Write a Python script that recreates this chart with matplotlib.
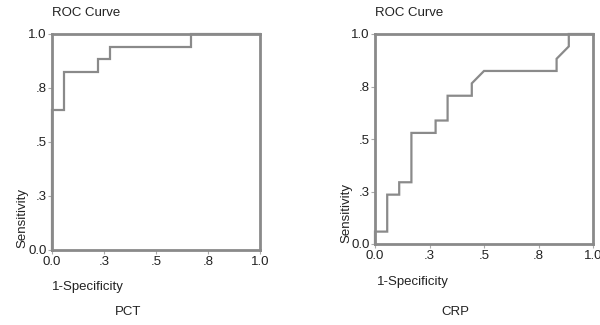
import matplotlib
matplotlib.use("Agg")
import matplotlib.pyplot as plt

# ROC curve vertices (1-specificity, sensitivity)
pct_fpr = [0.0, 0.0, 0.056, 0.056, 0.222, 0.222, 0.278, 0.278, 0.667, 0.667, 1.0]
pct_tpr = [0.0, 0.647, 0.647, 0.824, 0.824, 0.882, 0.882, 0.941, 0.941, 1.0, 1.0]

crp_fpr = [0.0, 0.0, 0.056, 0.056, 0.111, 0.111, 0.167, 0.167, 0.278, 0.278,
           0.333, 0.333, 0.444, 0.444, 0.5, 0.833, 0.833, 0.889, 0.889, 1.0]
crp_tpr = [0.0, 0.059, 0.059, 0.235, 0.235, 0.294, 0.294, 0.529, 0.529, 0.588,
           0.588, 0.706, 0.706, 0.765, 0.824, 0.824, 0.882, 0.941, 1.0, 1.0]

tick_pos = [0.0, 0.25, 0.5, 0.75, 1.0]
tick_labels = ["0.0", ".3", ".5", ".8", "1.0"]
panel_names = ["PCT", "CRP"]

plt.rcParams['font.family'] = ['Liberation Sans', 'DejaVu Sans']
W, H = 600, 325
fig = plt.figure(figsize=(6, 3.25), dpi=100)

def px(x, y):
    return x / W, 1 - y / H

line_col = '#8a8a8a'
text_col = '#222222'
fs = 9.5

panels = [
    # axes box (left, top, right, bottom) in pixels, label positions
    dict(box=(52, 34, 260, 250), fpr=pct_fpr, tpr=pct_tpr, ylab=(22, 248), xlab=(52, 287), name=(128, 312)),
    dict(box=(375, 34, 593, 244), fpr=crp_fpr, tpr=crp_tpr, ylab=(346, 243), xlab=(377, 282), name=(455, 312)),
]

for p, name in zip(panels, panel_names):
    l, t, r, b = p['box']
    ax = fig.add_axes([l / W, 1 - b / H, (r - l) / W, (b - t) / H])
    ax.plot(p['fpr'], p['tpr'], color=line_col, linewidth=1.6, solid_joinstyle='miter', clip_on=False)
    ax.set_xlim(0, 1)
    ax.set_ylim(0, 1)
    ax.set_xticks(tick_pos)
    ax.set_xticklabels(tick_labels)
    ax.set_yticks(tick_pos)
    ax.set_yticklabels(tick_labels)
    ax.tick_params(length=3, width=0.8, color='#aaaaaa', labelsize=fs, labelcolor=text_col, pad=1)
    for s in ax.spines.values():
        s.set_color(line_col)
        s.set_linewidth(2)
    fig.text(*px(l, 13), "ROC Curve", ha='left', va='center', fontsize=fs, color=text_col)
    fig.text(*px(*p['ylab']), "Sensitivity", rotation=90, ha='center', va='bottom', fontsize=fs, color=text_col)
    fig.text(*px(*p['xlab']), "1-Specificity", ha='left', va='center', fontsize=fs, color=text_col)
    fig.text(*px(*p['name']), name, ha='center', va='center', fontsize=fs, color=text_col)

fig.savefig("out.png", dpi=100)
